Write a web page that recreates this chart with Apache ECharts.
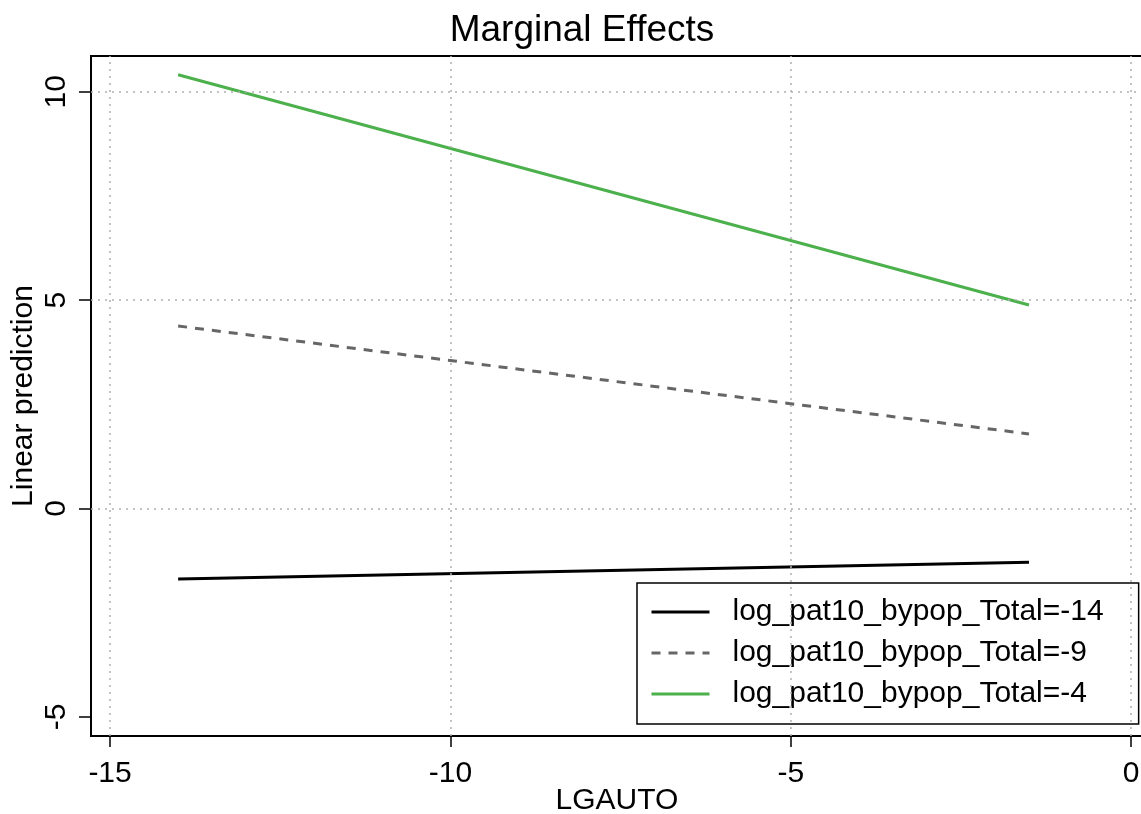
<!DOCTYPE html>
<html>
<head>
<meta charset="utf-8">
<script src="https://cdn.jsdelivr.net/npm/echarts@6/dist/echarts.min.js"></script>
<style>html,body{margin:0;padding:0;background:#fff;}#chart{width:1141px;height:814px;}</style>
</head>
<body>
<div id="chart"></div>
<script>
// Data
const xValues = [-14, -1.5];
const seriesNames = ['log_pat10_bypop_Total=-14', 'log_pat10_bypop_Total=-9', 'log_pat10_bypop_Total=-4'];
const yTotalMinus14 = [-1.69, -1.29];
const yTotalMinus9 = [4.38, 1.79];
const yTotalMinus4 = [10.41, 4.885];
const xTicks = [-15, -10, -5, 0];
const yTicks = [-5, 0, 5, 10];
const xGridLines = [-15, -10, -5, 0];
const yGridLines = [0, 5, 10];

const FONT = '"Liberation Sans", Arial, sans-serif';
const pairs = ys => xValues.map((x, i) => [x, ys[i]]);

const gridStyle = {color: '#b0b0b0', width: 1.5, type: [2, 5]};

const chart = echarts.init(document.getElementById('chart'), null, {renderer: 'canvas'});
chart.setOption({
  animation: false,
  backgroundColor: '#fff',
  textStyle: {fontFamily: FONT},
  title: {
    text: 'Marginal Effects',
    left: 577, textAlign: 'center', top: 7,
    textStyle: {fontFamily: FONT, fontSize: 37, fontWeight: 'normal', color: '#000'}
  },
  grid: {
    left: 91, right: -2, top: 56, bottom: 78,
    outerBoundsMode: 'none', containLabel: false,
    show: true, borderColor: '#000', borderWidth: 2, backgroundColor: '#fff'
  },
  legend: {
    orient: 'vertical', left: 637, top: 583,
    padding: [14, 35, 15, 13],
    itemWidth: 58, itemHeight: 30, itemGap: 11,
    borderColor: '#000', borderWidth: 1.5, backgroundColor: '#fff',
    itemStyle: {opacity: 0},
    lineStyle: {width: 3},
    textStyle: {fontFamily: FONT, fontSize: 30, color: '#000', lineHeight: 30, padding: [0, 0, 0, 18]},
    data: seriesNames
  },
  xAxis: {
    type: 'value', min: -15.28, max: 0.175,
    name: 'LGAUTO', nameLocation: 'middle', nameGap: 50, nameMoveOverlap: false,
    nameTextStyle: {fontFamily: FONT, fontSize: 30, color: '#000'},
    axisLine: {show: false, onZero: false},
    axisTick: {show: true, customValues: xTicks, length: 11, lineStyle: {color: '#000', width: 1.5}},
    axisLabel: {customValues: xTicks, fontFamily: FONT, fontSize: 30, color: '#000', margin: 23},
    splitLine: {show: false}
  },
  yAxis: {
    type: 'value', min: -5.46, max: 10.86,
    name: 'Linear prediction', nameLocation: 'middle', nameGap: 52, nameRotate: 90, nameMoveOverlap: false,
    nameTextStyle: {fontFamily: FONT, fontSize: 30, color: '#000'},
    axisLine: {show: false, onZero: false},
    axisTick: {show: true, customValues: yTicks, length: 12, lineStyle: {color: '#000', width: 1.5}},
    axisLabel: {customValues: yTicks, fontFamily: FONT, fontSize: 30, color: '#000', rotate: 90, align: 'center', verticalAlign: 'bottom', margin: 19},
    splitLine: {show: false}
  },
  series: [
    {
      name: 'gridlines', type: 'line', data: [], silent: true, z: 1,
      markLine: {
        silent: true, symbol: 'none', animation: false,
        label: {show: false},
        lineStyle: gridStyle,
        emphasis: {disabled: true},
        data: xGridLines.map(v => ({xAxis: v})).concat(yGridLines.map(v => ({yAxis: v})))
      }
    },
    {
      name: seriesNames[0], type: 'line', data: pairs(yTotalMinus14),
      symbol: 'none', z: 3,
      lineStyle: {color: '#000000', width: 3, type: 'solid'},
      itemStyle: {color: '#000000'}
    },
    {
      name: seriesNames[1], type: 'line', data: pairs(yTotalMinus9),
      symbol: 'none', z: 3,
      lineStyle: {color: '#666666', width: 3, type: [9, 8]},
      itemStyle: {color: '#666666'}
    },
    {
      name: seriesNames[2], type: 'line', data: pairs(yTotalMinus4),
      symbol: 'none', z: 3,
      lineStyle: {color: '#4cb04c', width: 3, type: 'solid'},
      itemStyle: {color: '#4cb04c'}
    }
  ]
});
</script>
</body>
</html>
